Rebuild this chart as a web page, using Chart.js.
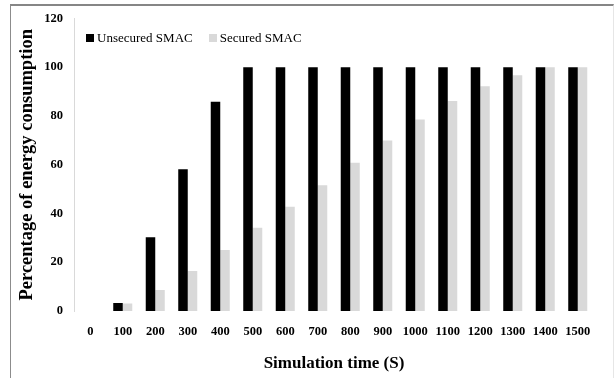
<!DOCTYPE html>
<html>
<head>
<meta charset="utf-8">
<script src="https://cdn.jsdelivr.net/npm/chart.js@4/dist/chart.umd.min.js"></script>
<style>
  html, body { margin: 0; padding: 0; background: #fff; }
  #wrap { position: relative; width: 614px; height: 378px; overflow: hidden; }
  #frame { position: absolute; left: 10px; top: 4px; width: 602px; height: 400px;
           border-top: 2px solid #868686; border-left: 1px solid #8c8c8c; border-right: 1px solid #e6e6e6; }
  canvas { position: absolute; left: 0; top: 0; }
  #legend { position: absolute; left: 86px; top: 30px; font-family: 'Liberation Serif', 'Times New Roman', serif;
            font-size: 13px; color: #000; white-space: nowrap; line-height: 16px; }
  #legend .item { display: inline-block; margin-right: 16px; }
  #legend .sw { display: inline-block; width: 8px; height: 8px; margin-right: 3px; vertical-align: 0px; }
</style>
</head>
<body>
<div id="wrap">
  <div id="frame"></div>
  <canvas id="c" width="614" height="378"></canvas>
  <div id="legend"></div>
</div>
<script>
const categories = ['0','100','200','300','400','500','600','700','800','900','1000','1100','1200','1300','1400','1500'];
const unsecured = [0, 3.3, 30.3, 58.2, 85.8, 100, 100, 100, 100, 100, 100, 100, 100, 100, 100, 100];
const secured   = [0, 3.1, 8.6, 16.4, 25, 34.2, 42.8, 51.6, 60.8, 70, 78.6, 86.2, 92.2, 96.7, 100, 100];
const yTicks = [0, 20, 40, 60, 80, 100, 120];

const serif = "'Liberation Serif', 'Times New Roman', serif";

const chart = new Chart(document.getElementById('c'), {
  type: 'bar',
  data: {
    labels: categories,
    datasets: [
      { label: 'Unsecured SMAC', data: unsecured, backgroundColor: '#000000',
        barPercentage: 1.0, categoryPercentage: 0.585 },
      { label: 'Secured SMAC', data: secured, backgroundColor: '#d9d9d9',
        barPercentage: 1.0, categoryPercentage: 0.585 }
    ]
  },
  options: {
    responsive: false,
    animation: false,
    layout: { padding: { left: 0, right: 20, top: 18, bottom: 0 } },
    plugins: {
      tooltip: { enabled: false },
      legend: { display: false }
    },
    scales: {
      x: {
        grid: { display: false, drawTicks: false },
        border: { display: false },
        ticks: { color: '#000', font: { family: serif, size: 12.5, weight: 'bold' }, padding: 13, maxRotation: 0, autoSkip: false },
        title: { display: true, text: 'Simulation time (S)', color: '#000',
                 font: { family: serif, size: 17, weight: 'bold' }, padding: { top: 10, bottom: 4 } },
        afterFit: s => { s.height = 67; }
      },
      y: {
        min: 0, max: 120,
        afterBuildTicks: s => { s.ticks = yTicks.map(v => ({ value: v })); },
        grid: { display: false, drawTicks: false },
        border: { display: true, color: '#d9d9d9', width: 1 },
        ticks: { color: '#000', font: { family: serif, size: 12.5, weight: 'bold' }, padding: 11 },
        title: { display: true, text: 'Percentage of energy consumption', color: '#000',
                 font: { family: serif, size: 18.5, weight: 'bold' }, padding: { top: 16, bottom: 0 } },
        afterFit: s => { s.width = 74; }
      }
    }
  }
});

const leg = document.getElementById('legend');
chart.data.datasets.forEach(ds => {
  const item = document.createElement('span');
  item.className = 'item';
  const sw = document.createElement('span');
  sw.className = 'sw';
  sw.style.background = ds.backgroundColor;
  item.appendChild(sw);
  item.appendChild(document.createTextNode(ds.label));
  leg.appendChild(item);
});
</script>
</body>
</html>
